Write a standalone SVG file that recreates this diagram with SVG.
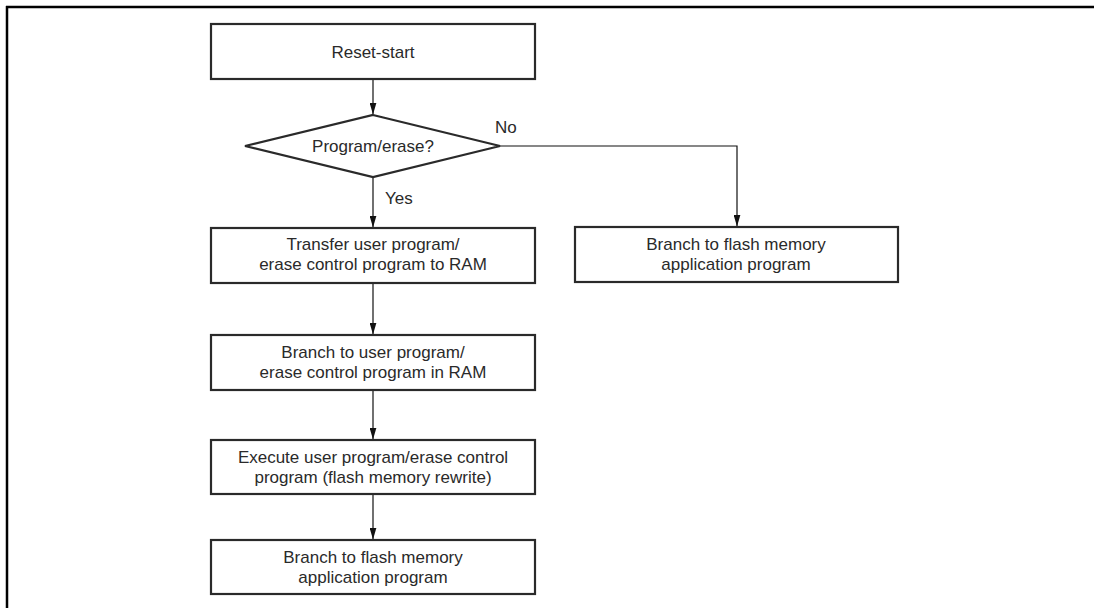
<svg xmlns="http://www.w3.org/2000/svg" width="1094" height="608" viewBox="0 0 1094 608">
<style>
.box{fill:#fff;stroke:#2a2a2a;stroke-width:2.2}
.ln{fill:none;stroke:#111;stroke-width:1.2}
text{font-family:"Liberation Sans",Arial,sans-serif;font-size:17px;fill:#2a2a2a;text-anchor:middle}
.lbl{text-anchor:start}
</style>
<defs>
<marker id="ah" markerWidth="12" markerHeight="7" refX="11.5" refY="3.5" orient="auto" markerUnits="userSpaceOnUse" viewBox="0 0 12 7">
<path d="M0,0 L12,3.5 L0,7 Z" fill="#111"/>
</marker>
</defs>
<rect width="1094" height="608" fill="#fff"/>
<g id="frame">
<path d="M6,7 H1094 M7,6 V608" fill="none" stroke="#000" stroke-width="2.5"/>
</g>
<g id="connectors">
<path class="ln" d="M373,80 V114" marker-end="url(#ah)"/>
<path class="ln" d="M373,177 V227" marker-end="url(#ah)"/>
<path class="ln" d="M500,146 H737 V226" marker-end="url(#ah)"/>
<path class="ln" d="M373,284 V334" marker-end="url(#ah)"/>
<path class="ln" d="M373,391 V439" marker-end="url(#ah)"/>
<path class="ln" d="M373,495 V539" marker-end="url(#ah)"/>
<text class="lbl" x="495" y="133">No</text>
<text class="lbl" x="385" y="204">Yes</text>
</g>
<g id="reset">
<rect class="box" x="211" y="24" width="324" height="55"/>
<text x="373" y="58">Reset-start</text>
</g>
<g id="decision">
<polygon class="box" points="373,115 500,146 373,177 245,146"/>
<text x="373" y="152">Program/erase?</text>
</g>
<g id="transfer">
<rect class="box" x="211" y="228" width="324" height="55"/>
<text x="373" y="250">Transfer user program/</text>
<text x="373" y="270">erase control program to RAM</text>
</g>
<g id="branch-flash-right">
<rect class="box" x="575" y="227" width="323" height="55"/>
<text x="736" y="250">Branch to flash memory</text>
<text x="736" y="270">application program</text>
</g>
<g id="branch-ram">
<rect class="box" x="211" y="335" width="324" height="55"/>
<text x="373" y="358">Branch to user program/</text>
<text x="373" y="378">erase control program in RAM</text>
</g>
<g id="execute">
<rect class="box" x="211" y="440" width="324" height="54"/>
<text x="373" y="463">Execute user program/erase control</text>
<text x="373" y="483">program (flash memory rewrite)</text>
</g>
<g id="branch-flash-bottom">
<rect class="box" x="211" y="540" width="324" height="54"/>
<text x="373" y="563">Branch to flash memory</text>
<text x="373" y="583">application program</text>
</g>
</svg>
